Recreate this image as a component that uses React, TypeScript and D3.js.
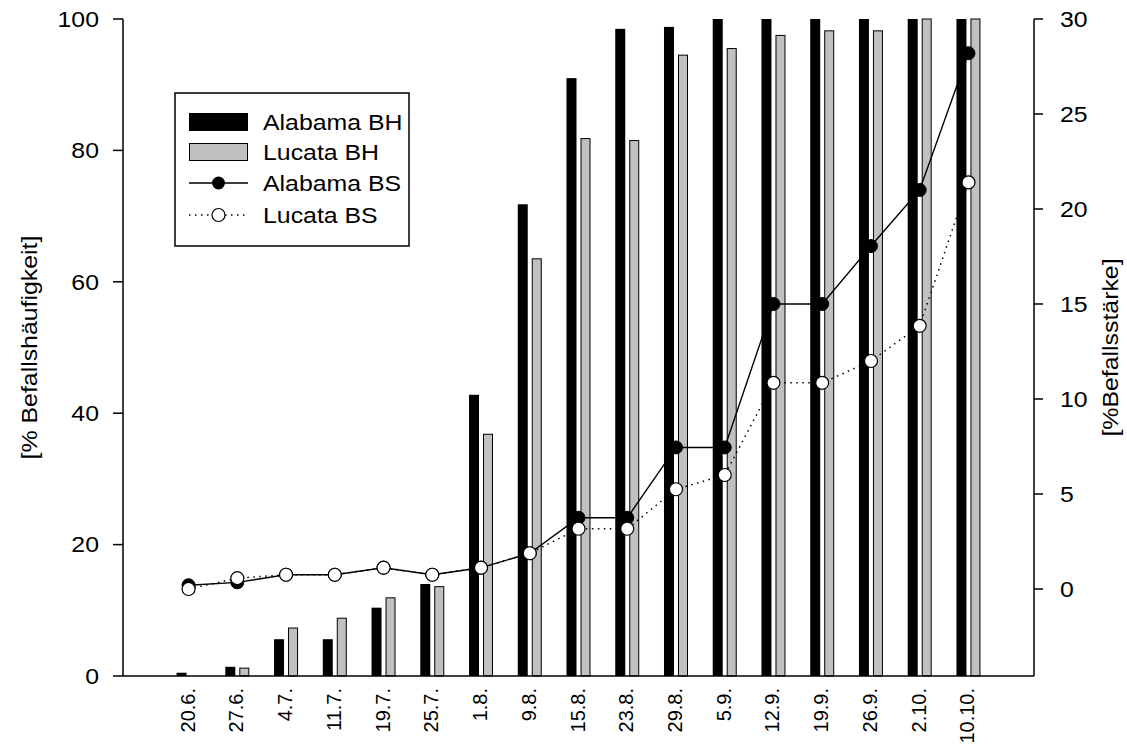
import React from "react";
import * as d3 from "d3";

const dates = ["20.6.", "27.6.", "4.7.", "11.7.", "19.7.", "25.7.", "1.8.", "9.8.", "15.8.", "23.8.", "29.8.", "5.9.", "12.9.", "19.9.", "26.9.", "2.10.", "10.10."];
const alabamaBH = [0.5, 1.4, 5.6, 5.6, 10.4, 14.0, 42.8, 71.8, 91.0, 98.5, 98.8, 100, 100, 100, 100, 100, 100];
const lucataBH = [0, 1.2, 7.3, 8.8, 11.9, 13.6, 36.8, 63.5, 81.8, 81.5, 94.5, 95.5, 97.5, 98.2, 98.2, 100, 100];
const alabamaBS = [0.2, 0.35, 0.75, 0.75, 1.12, 0.75, 1.12, 1.88, 3.75, 3.75, 7.45, 7.45, 15.0, 15.0, 18.05, 21.0, 28.2];
const lucataBS = [0, 0.57, 0.75, 0.75, 1.12, 0.75, 1.12, 1.88, 3.17, 3.17, 5.25, 6.0, 10.85, 10.85, 12.0, 13.85, 21.4];
const leftTicks = [0, 20, 40, 60, 80, 100];
const rightTicks = [0, 5, 10, 15, 20, 25, 30];
const legendItems = ["Alabama BH", "Lucata BH", "Alabama BS", "Lucata BS"];

const W = 1127, H = 746;
const L = 123, R = 1034, TOP = 19, BOT = 676;
const SX = 1.13;
const FS = 22;
const FONT = "'Liberation Sans', Arial, Helvetica, sans-serif";
const GRAY = "#c0c0c0";

function T({ x, y, rot = 0, anchor = "start", size = FS, dy = "0.35em", sx = SX, children }: any) {
  return (
    <text
      transform={`translate(${x},${y})${rot ? ` rotate(${rot})` : ""} scale(${sx},1)`}
      textAnchor={anchor}
      fontSize={size}
      dy={dy}
      fontFamily={FONT}
      fill="#000"
    >
      {children}
    </text>
  );
}

export default function App() {
  const x = d3.scalePoint<string>().domain(dates).range([L, R]).padding(1.345);
  const y = d3.scaleLinear().domain([0, 100]).range([BOT, TOP]);
  const y2 = d3.scaleLinear().domain([-4.58, 30]).range([BOT, TOP]);

  const lineA = d3.line<number>().x((_, i) => x(dates[i])!).y((d) => y2(d));
  const bw = 10, gap = 2;

  return (
    <div style={{ position: "absolute", left: 0, top: 0 }}>
      <svg width={W} height={H} style={{ display: "block", background: "#fff" }}>
        <rect x={0} y={0} width={W} height={H} fill="#fff" />
        {/* bars */}
        {dates.map((d, i) => {
          const cx = x(d)!;
          return (
            <g key={d}>
              {alabamaBH[i] > 0 && (
                <rect x={cx - gap - bw} y={y(alabamaBH[i])} width={bw} height={BOT - y(alabamaBH[i])} fill="#000" />
              )}
              {lucataBH[i] > 0 && (
                <rect x={cx + gap + 0.5} y={y(lucataBH[i])} width={bw - 1} height={BOT - y(lucataBH[i])} fill={GRAY} stroke="#000" strokeWidth={1} />
              )}
            </g>
          );
        })}
        {/* lines */}
        <path d={lineA(alabamaBS)!} fill="none" stroke="#000" strokeWidth={1.4} />
        {alabamaBS.map((v, i) => (
          <circle key={"a" + i} cx={x(dates[i])} cy={y2(v)} r={6.5} fill="#000" stroke="#000" strokeWidth={1} />
        ))}
        <path d={lineA(lucataBS)!} fill="none" stroke="#000" strokeWidth={1.5} strokeDasharray="1.5 4.5" />
        {lucataBS.map((v, i) => (
          <circle key={"l" + i} cx={x(dates[i])} cy={y2(v)} r={6.5} fill="#fff" stroke="#000" strokeWidth={1.2} />
        ))}
        {/* axes */}
        <line x1={L} x2={L} y1={TOP} y2={BOT} stroke="#000" strokeWidth={1.5} />
        <line x1={R} x2={R} y1={TOP} y2={BOT} stroke="#000" strokeWidth={1.5} />
        <line x1={L} x2={R} y1={BOT} y2={BOT} stroke="#000" strokeWidth={1.5} />
        {leftTicks.map((t) => (
          <g key={"lt" + t}>
            <line x1={L - 10} x2={L} y1={y(t)} y2={y(t)} stroke="#000" strokeWidth={1.5} />
            <T x={99} y={y(t)} anchor="end">{t}</T>
          </g>
        ))}
        {rightTicks.map((t) => (
          <g key={"rt" + t}>
            <line x1={R} x2={R + 9} y1={y2(t)} y2={y2(t)} stroke="#000" strokeWidth={1.5} />
            <T x={1060} y={y2(t)} anchor="start">{t}</T>
          </g>
        ))}
        {dates.map((d) => (
          <T key={"xl" + d} x={x(d)! - 1} y={688} rot={-90} anchor="end" size={20} sx={1}>{d}</T>
        ))}
        <T x={29} y={(TOP + BOT) / 2} rot={-90} anchor="middle">[% Befallshäufigkeit]</T>
        <T x={1110} y={(TOP + BOT) / 2} rot={-90} anchor="middle">[%Befallsstärke]</T>
        {/* legend */}
        <rect x={175} y={93} width={234} height={153} fill="#fff" stroke="#000" strokeWidth={1.5} />
        {legendItems.map((name, i) => {
          const cy = [122, 152, 183, 215][i];
          return (
            <g key={name}>
              {i === 0 && <rect x={189} y={cy - 9} width={59} height={18} fill="#000" />}
              {i === 1 && <rect x={189.5} y={cy - 8.5} width={58} height={17} fill={GRAY} stroke="#000" strokeWidth={1} />}
              {i === 2 && (
                <>
                  <line x1={189} x2={248} y1={cy} y2={cy} stroke="#000" strokeWidth={1.5} />
                  <circle cx={218.5} cy={cy} r={6.5} fill="#000" />
                </>
              )}
              {i === 3 && (
                <>
                  <line x1={189} x2={248} y1={cy} y2={cy} stroke="#000" strokeWidth={1.5} strokeDasharray="1.5 4.5" />
                  <circle cx={218.5} cy={cy} r={6.5} fill="#fff" stroke="#000" strokeWidth={1.2} />
                </>
              )}
              <T x={263} y={cy} anchor="start">{name}</T>
            </g>
          );
        })}
      </svg>
    </div>
  );
}
